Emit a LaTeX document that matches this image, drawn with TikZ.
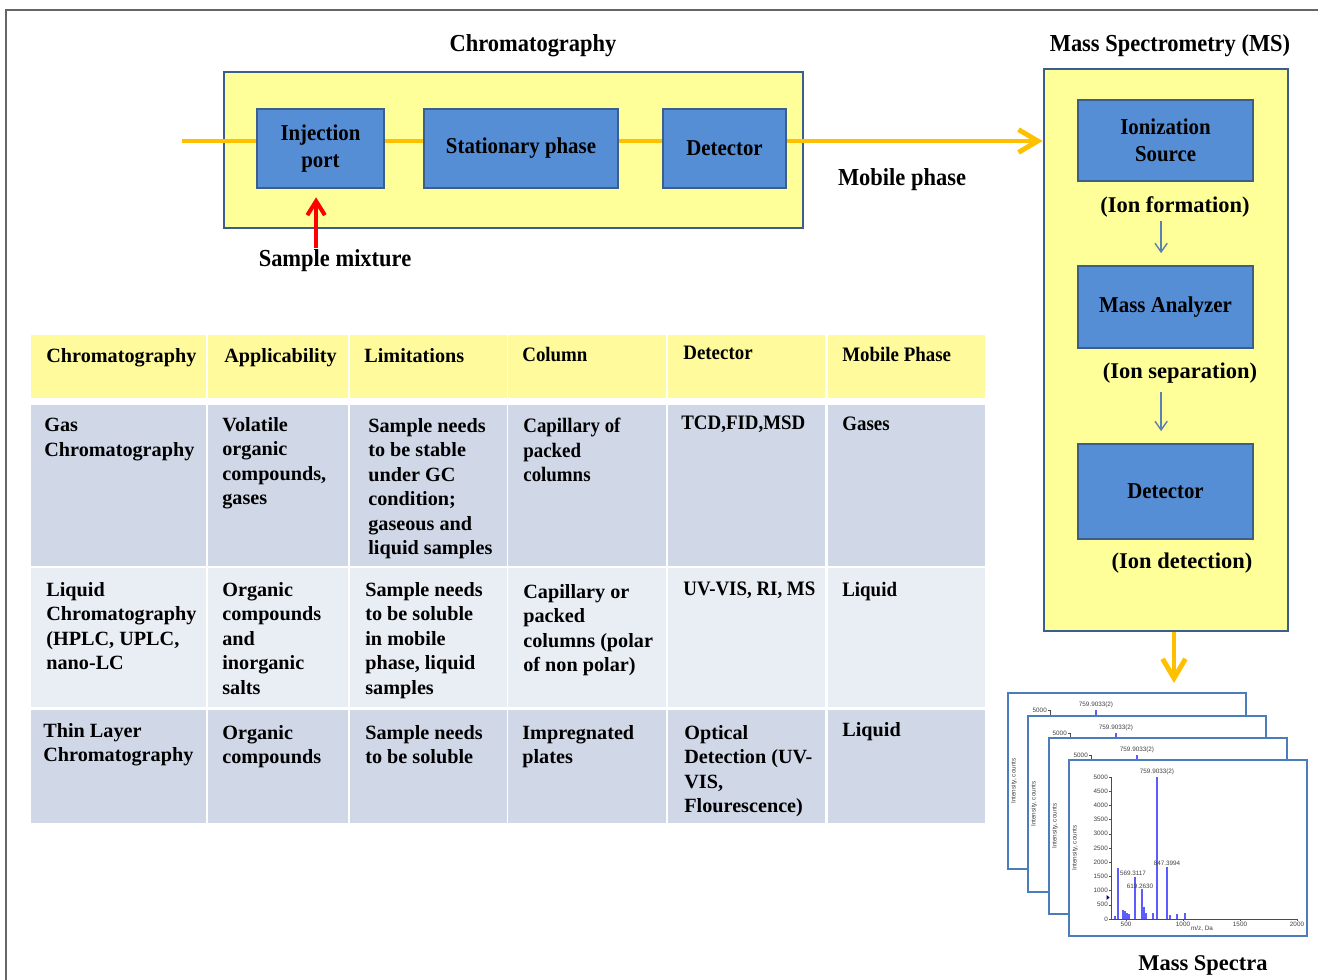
\documentclass[tikz,border=0pt]{standalone}
\usepackage{fontspec}
\setmainfont{Liberation Serif}
\setsansfont{Liberation Sans}
\newfontfamily\slimserif[FakeStretch=0.92]{Liberation Serif}
\usetikzlibrary{arrows.meta,positioning}

\definecolor{boxyellow}{HTML}{FFFF99}
\definecolor{boxblue}{HTML}{558ED5}
\definecolor{boxedge}{HTML}{3B5E8C}
\definecolor{flow}{HTML}{FFC000}
\definecolor{thinblue}{HTML}{5B80B2}
\definecolor{headyellow}{HTML}{FFFB9C}
\definecolor{rowdark}{HTML}{D0D8E8}
\definecolor{rowlight}{HTML}{E9EDF4}
\definecolor{panelblue}{HTML}{4A7EBB}
\definecolor{peak}{HTML}{5C5CFF}

\tikzset{
  stage/.style={draw=boxedge, line width=1.6pt, fill=boxyellow, inner sep=0pt},
  unit/.style={draw=boxedge, line width=1.6pt, fill=boxblue, inner sep=0pt, align=center,
    font=\slimserif\fontsize{12.9}{15.5}\selectfont\bfseries},
  caption/.style={inner sep=1pt, font=\slimserif\fontsize{13.9}{16}\selectfont\bfseries},
  note/.style={inner sep=1pt, font=\fontsize{12.8}{15}\selectfont\bfseries},
  flowline/.style={flow, line width=2.8pt},
  flowarrow/.style={flowline, -{Straight Barb[length=11pt,width=13pt]}},
  samplearrow/.style={red, line width=2.3pt, -{Straight Barb[length=8pt,width=10pt]}},
  ionarrow/.style={thinblue, line width=0.8pt, -{Straight Barb[length=5pt,width=7pt]}},
  cell/.style={anchor=north west, inner sep=0pt, align=left,
    font=\fontsize{11.5}{13.9}\selectfont\bfseries},
  slim/.style={font=\slimserif\fontsize{11.7}{13.9}\selectfont\bfseries},
  axisline/.style={black!70, line width=0.3pt},
  peakline/.style={peak, line width=0.6pt},
  ticklab/.style={inner sep=0.5pt, font=\sffamily\fontsize{3.6}{4}\selectfont, text=black!75}
}

\begin{document}
\begin{tikzpicture}[x=0.02cm, y=-0.02cm]
  \useasboundingbox (0,0) rectangle (1318,980);

  % Rahmen
  \draw[black!60, line width=0.8pt] (6,980) -- (6,10) -- (1318,10);

  % Chromatographie
  \node[caption] (chromtitle) at (533,46) {Chromatography};
  \node[stage, minimum width=11.58cm, minimum height=3.12cm] (chrom) at (513.5,150) {};
  \node[unit, minimum width=2.54cm, minimum height=1.58cm] (inj) at (320.5,148.5) {Injection\\port};
  \node[unit, minimum width=3.88cm, minimum height=1.58cm] (stat) at (521,148.5) {Stationary phase};
  \node[unit, minimum width=2.46cm, minimum height=1.58cm] (det) at (724.5,148.5) {Detector};
  \node[caption] (sample) at (335,261) {Sample mixture};
  \node[caption] (mobile) at (902,180) {Mobile phase};

  % Massenspektrometrie
  \node[caption] (mstitle) at (1170,46) {Mass Spectrometry (MS)};
  \node[stage, minimum width=4.88cm, minimum height=11.24cm] (ms) at (1166,350) {};
  \node[unit, minimum width=3.5cm, minimum height=1.62cm] (ion) at (1165.5,140.5) {Ionization\\Source};
  \node[unit, minimum width=3.5cm, minimum height=1.64cm] (ana) at (1165.5,307) {Mass Analyzer};
  \node[unit, minimum width=3.5cm, minimum height=1.9cm] (msdet) at (1165.5,491.5) {Detector};
  \node[note] (ionform) at (1175,207) {(Ion formation)};
  \node[note] (ionsep) at (1180,373) {(Ion separation)};
  \node[note] (iondet) at (1182,563) {(Ion detection)};

  % Fluss der mobilen Phase
  \coordinate (feed) at (182,141);
  \draw[flowline] (feed) -- (feed -| inj.west);
  \draw[flowline] (inj.east |- feed) -- (stat.west |- feed);
  \draw[flowline] (stat.east |- feed) -- (det.west |- feed);
  \draw[flowarrow] (det.east |- feed) -- (ms.west |- feed);
  \coordinate (injin) at ([xshift=-2.5pt]inj.south);
  \coordinate (anain) at ([xshift=-2.5pt]ana.north);
  \coordinate (detin) at ([xshift=-2.5pt]msdet.north);
  \draw[samplearrow, shorten >=4.5pt] (sample.north -| injin) -- (injin);
  \draw[ionarrow, shorten <=1pt, shorten >=6.5pt] (ionform.south -| anain) -- (anain);
  \draw[ionarrow, shorten <=4pt, shorten >=6.5pt] (ionsep.south -| detin) -- (detin);
  \coordinate (specin) at (1174,683);
  \draw[flowarrow] (ms.south -| specin) -- (specin);

  % Massenspektren (vier gestapelte Blaetter, nur das vorderste ganz)
  \foreach \n/\dx/\dy in {1/0/0, 2/20/23, 3/41/45, 4/61/67}{
    \begin{scope}[shift={(1008+\dx,693+\dy)}]
      \draw[panelblue, line width=1.1pt, fill=white] (0,0) rectangle (238,176);
      \draw[axisline] (40,17) -- (42,17);
      \node[ticklab, anchor=east] (p\n-top) at (40,17) {5000};
      \node[ticklab] (p\n-pk1) at (88,12) {759.9033(2)};
      \node[ticklab, rotate=90] (p\n-int) at (6,88) {Intensity, counts};
      \ifnum\n<4
        \draw[axisline] (42,17) -- (42,24);
        \draw[peakline] (88,17) -- (88,24);
      \else
        \draw[axisline] (42,17) -- (42,159) -- (228,159);
        \foreach \k in {0,...,9}{
          \pgfmathtruncatemacro\val{500*\k}
          \draw[axisline] (40,159-14.2*\k) -- (42,159-14.2*\k);
          \node[ticklab, anchor=east] (p\n-y\k) at (40,159-14.2*\k) {\val};
        }
        \foreach \t/\xx in {500/57, 1000/114, 1500/171, 2000/228}{
          \draw[axisline] (\xx,159) -- (\xx,161);
          \node[ticklab, anchor=north] (p\n-x\t) at (\xx,161) {\t};
        }
        \node[ticklab] (p\n-mz) at (133,169) {m/z, Da};
        \foreach \xx/\top in {46/156, 49/108, 54/150, 56/151, 58/153, 60/154, 66/117, 73/129,
                              75/147, 77/153, 84/153, 88/17, 98/107, 101/155, 108/154, 116/153}
          \draw[peakline] (\xx,159) -- (\xx,\top);
        \fill[black!60!blue] (37.5,135) -- (40.5,137.5) -- (37.5,140) -- cycle;
        \node[ticklab] (p\n-pk2) at (64,113) {569.3117};
        \node[ticklab] (p\n-pk3) at (71,126) {619.2630};
        \node[ticklab] (p\n-pk4) at (98,103) {847.3994};
      \fi
    \end{scope}
  }
  \node[note] (spectra) at (1203,965) {Mass Spectra};

  % Tabelle: Zellflaechen
  \foreach \xa/\xb in {31/206, 208/348, 350/507, 508/666, 668/825, 828/985}{
    \fill[headyellow] (\xa,335) rectangle (\xb,398);
    \fill[rowdark] (\xa,405) rectangle (\xb,566);
    \fill[rowlight] (\xa,568) rectangle (\xb,707);
    \fill[rowdark] (\xa,710) rectangle (\xb,823);
  }

  % Kopfzeile
  \node[cell] (h1) at (46,348) {Chromatography};
  \node[cell] (h2) at (224,348) {Applicability};
  \node[cell] (h3) at (364,348) {Limitations};
  \node[cell, slim] (h4) at (522,347) {Column};
  \node[cell, slim] (h5) at (683,346) {Detector};
  \node[cell, slim] (h6) at (842,347) {Mobile Phase};

  % Gaschromatographie
  \node[cell] (gc1) at (44,418) {Gas\\Chromatography};
  \node[cell] (gc2) at (222,417) {Volatile\\organic\\compounds,\\gases};
  \node[cell] (gc3) at (368,418) {Sample needs\\to be stable\\under GC\\condition;\\gaseous and\\liquid samples};
  \node[cell, slim] (gc4) at (523,418) {Capillary of\\packed\\columns};
  \node[cell, slim] (gc5) at (681,416) {TCD,FID,MSD};
  \node[cell, slim] (gc6) at (842,417) {Gases};

  % Fluessigchromatographie
  \node[cell] (lc1) at (46,582) {Liquid\\Chromatography\\(HPLC, UPLC,\\nano-LC};
  \node[cell] (lc2) at (222,582) {Organic\\compounds\\and\\inorganic\\salts};
  \node[cell] (lc3) at (365,582) {Sample needs\\to be soluble\\in mobile\\phase, liquid\\samples};
  \node[cell] (lc4) at (523,584) {Capillary or\\packed\\columns (polar\\of non polar)};
  \node[cell, slim] (lc5) at (683,582) {UV-VIS, RI, MS};
  \node[cell, slim] (lc6) at (842,582) {Liquid};

  % Duennschichtchromatographie
  \node[cell] (tl1) at (43,723) {Thin Layer\\Chromatography};
  \node[cell] (tl2) at (222,725) {Organic\\compounds};
  \node[cell] (tl3) at (365,725) {Sample needs\\to be soluble};
  \node[cell] (tl4) at (522,725) {Impregnated\\plates};
  \node[cell] (tl5) at (684,725) {Optical\\Detection (UV-\\VIS,\\Flourescence)};
  \node[cell] (tl6) at (842,722) {Liquid};
\end{tikzpicture}
\end{document}
